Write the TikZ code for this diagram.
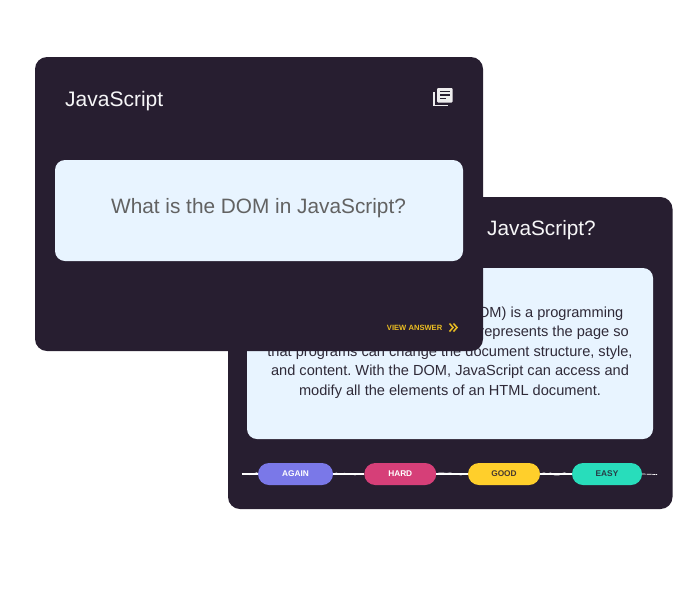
\documentclass[tikz,border=0pt]{standalone}
\usepackage{fontspec}
\setmainfont{Liberation Sans}
\usetikzlibrary{decorations.pathmorphing}
\definecolor{carddark}{HTML}{271E30}
\definecolor{cardlight}{HTML}{E8F4FF}
\definecolor{bodyink}{HTML}{2F2A38}
\definecolor{askink}{HTML}{626262}
\definecolor{viewgold}{HTML}{E9BC22}
\definecolor{againfill}{HTML}{7A78E8}
\definecolor{hardfill}{HTML}{D63F78}
\definecolor{goodfill}{HTML}{FFCF2B}
\definecolor{easyfill}{HTML}{28DDBB}
\tikzset{
  x=1pt,y=-1pt,
  card/.style={fill=carddark,rounded corners=12pt,inner sep=0pt},
  panel/.style={fill=cardlight,rounded corners=10pt,inner sep=0pt},
  title/.style={text=white!96!carddark,font=\fontsize{20.8}{24}\selectfont,inner sep=0pt},
  bodyline/.style={text=bodyink,font=\fontsize{14.6}{18}\selectfont,inner sep=0pt},
  pill/.style={rounded corners=11pt,minimum height=22pt,inner sep=0pt,font=\bfseries\fontsize{8.3}{10}\selectfont},
  rough/.style={white,line width=1.7pt,line join=round,postaction={draw,white,line width=1pt,decorate,decoration={random steps,segment length=3.5pt,amplitude=1.1pt}}}
}
\pgfmathsetseed{7}
\frenchspacing
\begin{document}
\begin{tikzpicture}
\useasboundingbox (0,0) rectangle (700,600);
% back card
\node[card,minimum width=444.5pt,minimum height=312pt] (backcard) at (450.25,353) {};
\node[title,anchor=base east] (backtitle) at (596,235.5) {JavaScript?};
\node[panel,minimum width=406pt,minimum height=171pt] (backpanel) at (450,353.5) {};
\node[bodyline,anchor=base east] (l1) at (623.5,317) {DOM) is a programming};
\node[bodyline,anchor=base east] (l2) at (629,336.5) {represents the page so};
\node[bodyline,anchor=base] (l3) at (450,356) {that programs can change the document structure, style,};
\node[bodyline,anchor=base] (l4) at (450,375) {and content. With the DOM, JavaScript can access and};
\node[bodyline,anchor=base] (l5) at (450,395) {modify all the elements of an HTML document.};
% connector ends
\coordinate (linestart) at (242,474);
\coordinate (lineend) at (657,474.5);
% answer buttons
\node[pill,fill=againfill,text=white,minimum width=75pt] (again) at (295.5,474) {AGAIN};
\node[pill,fill=hardfill,text=white,minimum width=72pt] (hard) at (400.25,474) {HARD};
\node[pill,fill=goodfill,text=carddark!85!goodfill,minimum width=72pt] (good) at (504,474) {GOOD};
\node[pill,fill=easyfill,text=carddark!85!easyfill,minimum width=70pt] (easy) at (607,474) {EASY};
\draw[rough] (linestart) -- (again.west);
\draw[rough] (again.east) -- (hard.west);
\draw[rough] (hard.east) -- (good.west);
\draw[rough] (good.east) -- (easy.west);
\draw[white,line width=.7pt,dash pattern=on 4pt off .6pt] (easy.east) -- (lineend);
% front card
\node[card,minimum width=448pt,minimum height=294pt] (frontcard) at (259,204) {};
\node[title,anchor=base west,font=\fontsize{21}{24}\selectfont] (fronttitle) at (65,106.5) {JavaScript};
\node[panel,minimum width=408pt,minimum height=101pt] (frontpanel) at (259,210.5) {};
\node[text=askink,inner sep=0pt,font=\fontsize{20.8}{24}\selectfont] (question) at (258.5,208) {What is the DOM in JavaScript?};
\node[text=viewgold,inner sep=0pt,anchor=base east,font=\bfseries\fontsize{7.6}{10}\selectfont] (viewanswer) at (442.5,330) {VIEW ANSWER};
% chevrons
\draw[viewgold,line width=1.5pt] (449.5,323.5) -- (453,327.5) -- (449.5,331.5) (453.5,323.5) -- (457,327.5) -- (453.5,331.5);
% library icon
\fill[white!92!carddark,rounded corners=1pt] (437,88) rectangle (452.5,102.5);
\draw[white!92!carddark,line width=1.8pt] (434,92) -- (434,105.5) -- (448,105.5);
\draw[carddark,line width=1.5pt] (440,91.5) -- (449.5,91.5) (440,95) -- (449.5,95) (440,98.5) -- (445.5,98.5);
\end{tikzpicture}
\end{document}
